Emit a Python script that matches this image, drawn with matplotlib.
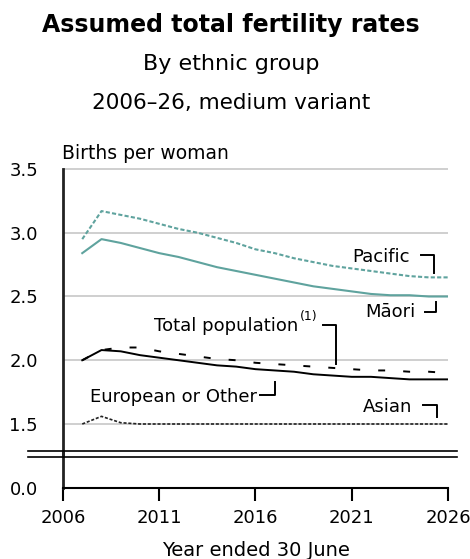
import numpy as np
import matplotlib.pyplot as plt

plt.rcParams['font.family'] = 'DejaVu Sans'
plt.rcParams['lines.scale_dashes'] = False

# data
years = np.arange(2007, 2027)
pacific = [2.95, 3.17, 3.14, 3.11, 3.07, 3.03, 3.00, 2.96, 2.92, 2.87,
           2.84, 2.80, 2.77, 2.74, 2.72, 2.70, 2.68, 2.66, 2.65, 2.65]
maori = [2.84, 2.95, 2.92, 2.88, 2.84, 2.81, 2.77, 2.73, 2.70, 2.67,
         2.64, 2.61, 2.58, 2.56, 2.54, 2.52, 2.51, 2.51, 2.50, 2.50]
total = [2.00, 2.08, 2.10, 2.10, 2.07, 2.05, 2.03, 2.01, 2.00, 1.98,
         1.97, 1.96, 1.95, 1.94, 1.93, 1.92, 1.92, 1.91, 1.91, 1.90]
european = [2.00, 2.08, 2.07, 2.04, 2.02, 2.00, 1.98, 1.96, 1.95, 1.93,
            1.92, 1.91, 1.89, 1.88, 1.87, 1.87, 1.86, 1.85, 1.85, 1.85]
asian = [1.50, 1.56, 1.51, 1.50, 1.50, 1.50, 1.50, 1.50, 1.50, 1.50,
         1.50, 1.50, 1.50, 1.50, 1.50, 1.50, 1.50, 1.50, 1.50, 1.50]

y_ticks = [1.5, 2.0, 2.5, 3.0, 3.5]
x_ticks = [2006, 2011, 2016, 2021, 2026]

teal = '#5fa39e'
W, H = 470, 559
fig = plt.figure(figsize=(W / 100, H / 100), dpi=100)

def box(x0, y0, x1, y1):
    # pixel box (from top-left) -> figure fraction
    return [x0 / W, 1 - y1 / H, (x1 - x0) / W, (y1 - y0) / H]

ppu = 127.5  # pixels per unit on the y axis
ax = fig.add_axes(box(63, 166, 448, 454))
ax.set_ylim(3.5 - (454 - 169) / ppu, 3.5 + 3 / ppu)
ax.set_xlim(2006, 2026)
ax.patch.set_alpha(0)

ax2 = fig.add_axes(box(63, 452, 448, 488))
ax2.set_ylim(0, 36 / ppu)
ax2.set_xlim(2006, 2026)
ax2.patch.set_alpha(0)

# gridlines
for v in y_ticks:
    ax.axhline(v, color='#cccccc', lw=1.3, zorder=1)

ax.plot(years, pacific, color=teal, lw=1.5, dashes=(3, 1.6), zorder=3)
ax.plot(years, maori, color=teal, lw=1.5, zorder=3)
ax.plot(years, total, color='black', lw=1.4, dashes=(5, 13), zorder=3)
ax.plot(years, european, color='black', lw=1.4, zorder=3)
ax.plot(years, asian, color='#222222', lw=1.2, dashes=(2.2, 1.3), zorder=3)

# spines / ticks
for a in (ax, ax2):
    for s in ('top', 'right'):
        a.spines[s].set_visible(False)
    a.spines['left'].set_linewidth(2)
    a.spines['left'].set_color('#222222')
ax.spines['bottom'].set_visible(False)
ax.spines['left'].set_bounds(ax.get_ylim()[0], 3.5)
ax.set_xticks([])
ax.set_yticks(y_ticks)
ax.set_yticklabels([f'{v:.1f}' for v in y_ticks])
ax.tick_params(axis='y', length=0, pad=18, labelsize=13)

ax2.set_yticks([0])
ax2.set_yticklabels(['0.0'])
ax2.tick_params(axis='y', length=0, pad=18, labelsize=13)
ax2.spines['bottom'].set_linewidth(1.5)
ax2.set_xticks(x_ticks)
ax2.tick_params(axis='x', length=9, width=1.5, direction='out', pad=6, labelsize=13)
ax2.set_xlabel('Year ended 30 June', fontsize=14, labelpad=10)

# axis break lines
for yp in (451, 456.5):
    fig.add_artist(plt.Line2D([28 / W, 457 / W], [1 - yp / H, 1 - yp / H],
                              color='black', lw=1.2))

# titles
fig.text(231 / W, 1 - 32 / H, 'Assumed total fertility rates', ha='center',
         va='baseline', fontsize=17, fontweight='bold')
fig.text(231 / W, 1 - 70 / H, 'By ethnic group', ha='center', va='baseline', fontsize=16)
fig.text(231 / W, 1 - 109 / H, '2006\u201326, medium variant', ha='center',
         va='baseline', fontsize=15.5)
fig.text(62 / W, 1 - 159 / H, 'Births per woman', ha='left', va='baseline', fontsize=13.5)

# series labels with brackets
lab = dict(fontsize=13, va='baseline')
ax.text(2024.03, 2.771, 'Pacific', ha='right', **lab)
ax.plot([2024.58, 2025.27, 2025.27], [2.826, 2.826, 2.682], color='black', lw=1.4)

ax.text(2024.29, 2.339, 'M\u0101ori', ha='right', **lab)
ax.plot([2025.38, 2025.38, 2024.81], [2.459, 2.381, 2.381], color='black', lw=1.4)

ax.text(2018.21, 2.232, 'Total population', ha='right', **lab)
ax.text(2018.31, 2.316, '(1)', ha='left', fontsize=9, va='baseline')
ax.plot([2019.51, 2020.18, 2020.18], [2.276, 2.276, 1.971], color='black', lw=1.4)

ax.text(2016.08, 1.673, 'European or Other', ha='right', **lab)
ax.plot([2016.23, 2017.01, 2017.01], [1.727, 1.727, 1.832], color='black', lw=1.4)

ax.text(2024.13, 1.594, 'Asian', ha='right', **lab)
ax.plot([2024.70, 2025.43, 2025.43], [1.649, 1.649, 1.557], color='black', lw=1.4)

fig.savefig('out.png', dpi=100)
